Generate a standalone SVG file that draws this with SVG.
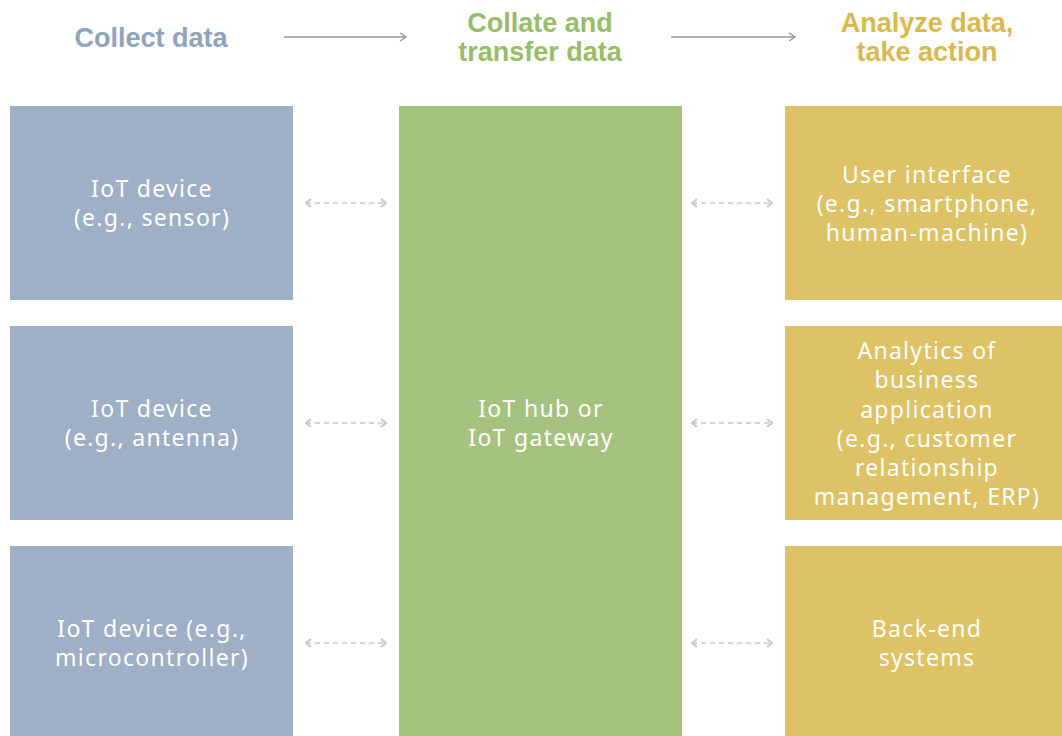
<svg xmlns="http://www.w3.org/2000/svg" width="1062" height="736" viewBox="0 0 1062 736">
<style>
.h{font-family:"Liberation Sans Narrow","Liberation Sans",sans-serif;font-weight:bold;font-size:27px;text-anchor:middle}
.t{font-family:"Noto Sans","Open Sans",sans-serif;font-size:23px;letter-spacing:1.3px;fill:#fff;text-anchor:middle}
.blue{fill:#9EAFC6}.green{fill:#A5C27E}.yellow{fill:#DDC266}
.flow{stroke:#999;stroke-width:1.5;fill:none}
.dash{stroke:#c8c8c8;stroke-width:1.5;stroke-dasharray:5 4;fill:none}
</style>
<defs>
<marker id="ah" viewBox="0 0 10 10" refX="9" refY="5" markerWidth="10" markerHeight="10" markerUnits="userSpaceOnUse" orient="auto"><path d="M3 1 L9 5 L3 9" fill="none" stroke="#999" stroke-width="1.5"/></marker>
<marker id="dh" viewBox="0 0 10 10" refX="9" refY="5" markerWidth="10" markerHeight="10" markerUnits="userSpaceOnUse" orient="auto-start-reverse"><path d="M4 1 L9 5 L4 9" fill="none" stroke="#c8c8c8" stroke-width="2"/></marker>
</defs>
<rect width="1062" height="736" fill="#fff"/>
<g id="headers">
<text class="h" x="151" y="47" fill="#8FA3BF">Collect data</text>
<text class="h" x="540" y="32" fill="#98BD68">Collate and</text>
<text class="h" x="540" y="61" fill="#98BD68">transfer data</text>
<text class="h" x="927" y="32" fill="#D9B84E">Analyze data,</text>
<text class="h" x="927" y="61" fill="#D9B84E">take action</text>
</g>
<g id="node-dev1"><rect class="blue" x="10" y="106" width="283" height="194"/><text class="t" x="152" y="197">IoT device</text><text class="t" x="152" y="226">(e.g., sensor)</text></g>
<g id="node-dev2"><rect class="blue" x="10" y="326" width="283" height="194"/><text class="t" x="152" y="417">IoT device</text><text class="t" x="152" y="446">(e.g., antenna)</text></g>
<g id="node-dev3"><rect class="blue" x="10" y="546" width="283" height="190"/><text class="t" x="152" y="637">IoT device (e.g.,</text><text class="t" x="152" y="666">microcontroller)</text></g>
<g id="node-hub"><rect class="green" x="399" y="106" width="283" height="630"/><text class="t" x="541" y="417">IoT hub or</text><text class="t" x="541" y="446">IoT gateway</text></g>
<g id="node-ui"><rect class="yellow" x="785" y="106" width="277" height="194"/><text class="t" x="927" y="183">User interface</text><text class="t" x="927" y="212">(e.g., smartphone,</text><text class="t" x="927" y="241">human-machine)</text></g>
<g id="node-analytics"><rect class="yellow" x="785" y="326" width="277" height="194"/>
<text class="t" x="927" y="359">Analytics of</text><text class="t" x="927" y="388">business</text><text class="t" x="927" y="418">application</text><text class="t" x="927" y="447">(e.g., customer</text><text class="t" x="927" y="476">relationship</text><text class="t" x="927" y="505">management, ERP)</text></g>
<g id="node-backend"><rect class="yellow" x="785" y="546" width="277" height="190"/><text class="t" x="927" y="637">Back-end</text><text class="t" x="927" y="666">systems</text></g>
<g id="connectors">
<line class="flow" x1="284" y1="37" x2="406" y2="37" marker-end="url(#ah)"/>
<line class="flow" x1="671" y1="37" x2="795" y2="37" marker-end="url(#ah)"/>
<line class="dash" x1="306" y1="203" x2="386" y2="203" marker-start="url(#dh)" marker-end="url(#dh)"/>
<line class="dash" x1="306" y1="423" x2="386" y2="423" marker-start="url(#dh)" marker-end="url(#dh)"/>
<line class="dash" x1="306" y1="643" x2="386" y2="643" marker-start="url(#dh)" marker-end="url(#dh)"/>
<line class="dash" x1="692" y1="203" x2="772" y2="203" marker-start="url(#dh)" marker-end="url(#dh)"/>
<line class="dash" x1="692" y1="423" x2="772" y2="423" marker-start="url(#dh)" marker-end="url(#dh)"/>
<line class="dash" x1="692" y1="643" x2="772" y2="643" marker-start="url(#dh)" marker-end="url(#dh)"/>
</g>
</svg>
